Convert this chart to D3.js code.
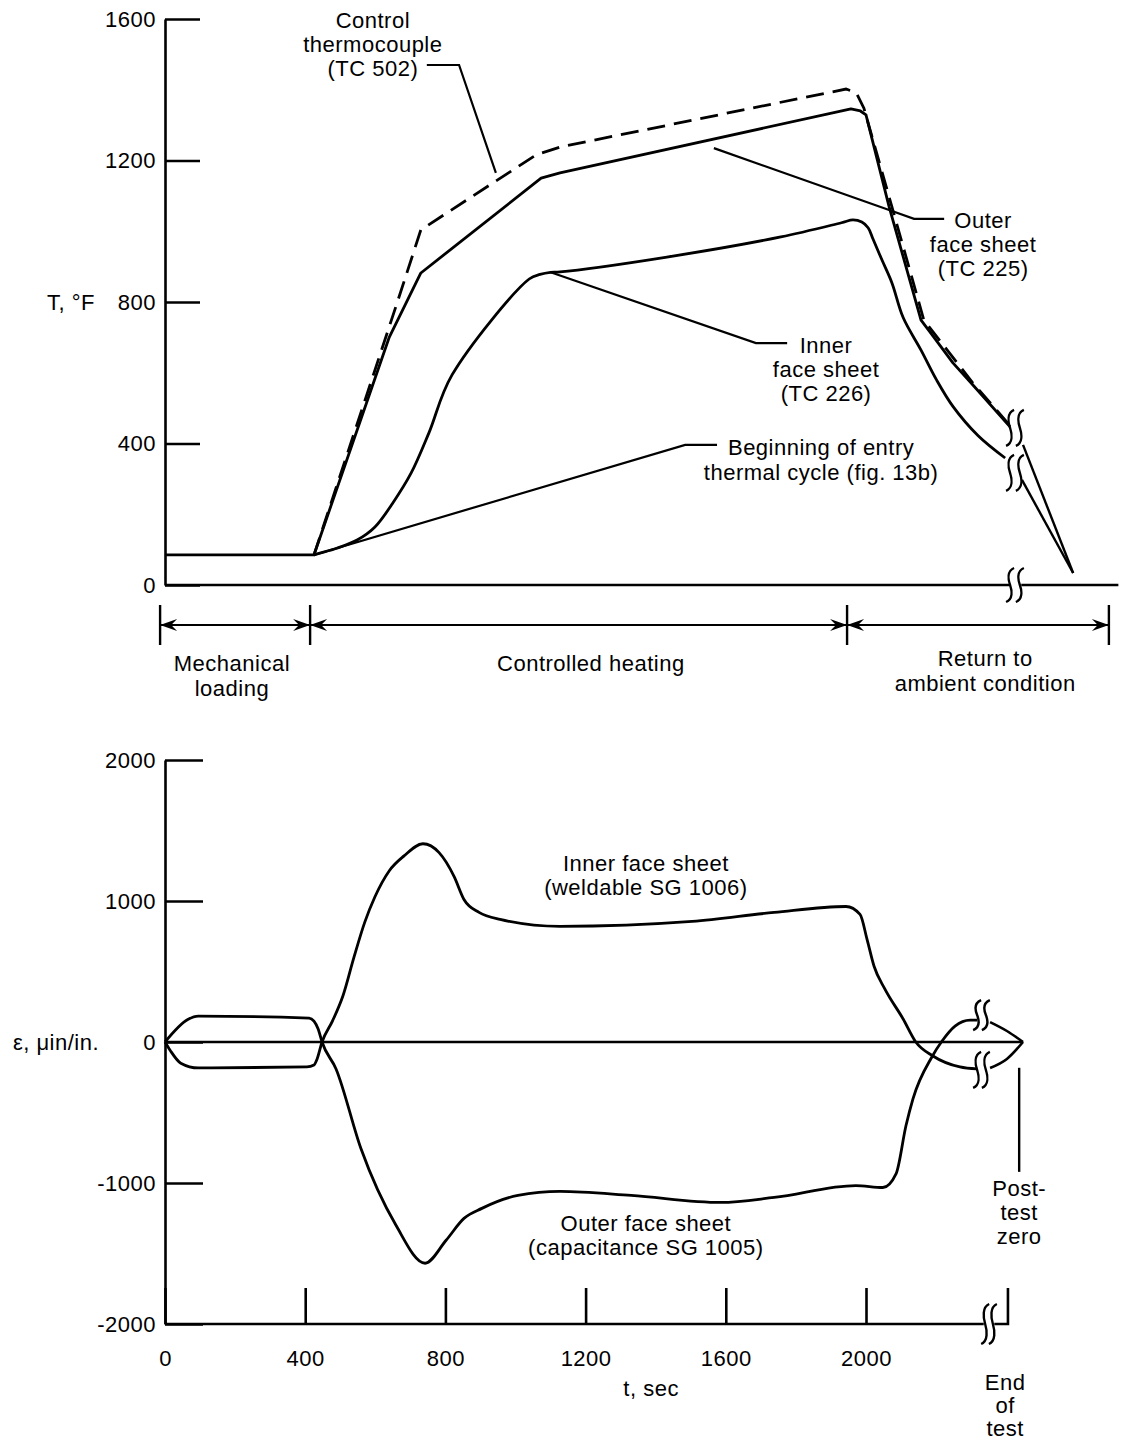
<!DOCTYPE html>
<html>
<head>
<meta charset="utf-8">
<script src="https://cdn.jsdelivr.net/npm/d3@7"></script>
<style>
body { margin: 0; background: #fff; }
svg text { font-family: "Liberation Sans", Arial, sans-serif; font-size: 22px; letter-spacing: 0.5px; fill: #000; }
</style>
</head>
<body>
<svg id="chart" width="1121" height="1442"></svg>
<script>
// tick values
var timeTicks = [0, 400, 800, 1200, 1600, 2000];
var tempTicks = [0, 400, 800, 1200, 1600];
var strainTicks = [-2000, -1000, 0, 1000, 2000];

// top panel: [t sec, T degF]; times past 2000 are on the broken (compressed) part of the axis
var controlTC502 = [[425,85],[665,806],[730,1004],[1059,1216],[1127,1238],[1943,1402],[1972,1392],[1994,1348],[2074,1069],[2165,749],[2194,712],[2305,571],[2414,447]];
var outerTC225 = [[0,85],[425,85],[640,701],[730,882],[1073,1150],[1127,1165],[1957,1346],[1984,1340],[2000,1329],[2066,1069],[2157,749],[2185,712],[2248,628],[2300,571],[2411,447]];
var outerTC225End = [[2448,396],[2591,34]];
var innerTC226 = [[425,85],[442,90],[490,104],[548,127],[599,164],[650,232],[702,316],[753,430],[819,594],[1039,865],[1070,878],[1100,884],[1127,885],[1432,927],[1757,984],[1930,1024],[1963,1032],[1988,1026],[2006,1010],[2020,978],[2045,920],[2074,854],[2106,756],[2157,664],[2200,582],[2248,505],[2320,422],[2397,359]];
var innerTC226End = [[2445,297],[2591,34]];

// bottom panel: [t sec, strain microin/in]
var innerSG1006 = [[0,0],[15,-60],[45,-150],[95,-184],[405,-177],[425,-163],[434,-120],[448,0],[478,150],[508,330],[539,600],[570,850],[599,1030],[640,1215],[682,1320],[736,1406],[782,1343],[825,1173],[853,1011],[896,919],[956,869],[1127,820],[1504,855],[1738,919],[1943,961],[1983,905],[2003,728],[2023,537],[2054,375],[2106,163],[2142,0],[2191,-99],[2268,-177],[2317,-191]];
var innerSG1006End = [[2354,-184],[2402,-120],[2448,0]];
var outerSG1005 = [[0,0],[65,160],[95,184],[411,170],[425,148],[437,92],[448,0],[488,-191],[559,-756],[659,-1300],[742,-1569],[802,-1406],[853,-1251],[904,-1180],[1007,-1088],[1127,-1060],[1330,-1088],[1586,-1138],[1738,-1102],[1971,-1018],[2048,-1032],[2086,-933],[2114,-594],[2134,-403],[2188,-106],[2217,7],[2254,113],[2297,155],[2317,155]];
var outerSG1005End = [[2354,141],[2402,78],[2448,0]];

// phases along the top time line
var phaseBounds = [-14, 414, 1946, 2693];
var phaseNames = [["Mechanical", "loading"], ["Controlled heating"], ["Return to", "ambient condition"]];
var phaseLabelT = [191, 1215, 2340];

// leader lines
var leaderControl = [[747,1470],[839,1470],[944,1165]];
var leaderOuter = [[1566,1235],[2066,1060],[2137,1035],[2223,1035]];
var leaderInner = [[1098,885],[1686,684],[1775,684]];
var leaderEntry = [[425,85],[1484,396],[1575,396]];

var svg = d3.select("#chart");
var x = d3.scaleLinear().domain([0, 2000]).range([165, 866]);
var yT = d3.scaleLinear().domain([0, 1600]).range([585, 19]);
var yS = d3.scaleLinear().domain([-2000, 2000]).range([1324, 760]);

var lineT = d3.line().x(function(d) { return x(d[0]); }).y(function(d) { return yT(d[1]); });
var roundT = d3.line().curve(d3.curveCatmullRom.alpha(0.5)).x(function(d) { return x(d[0]); }).y(function(d) { return yT(d[1]); });
var smoothS = d3.line().curve(d3.curveMonotoneX).x(function(d) { return x(d[0]); }).y(function(d) { return yS(d[1]); });

function stroke(sel, w) {
    return sel.attr("fill", "none").attr("stroke", "#000").attr("stroke-width", w);
}

function label(lines, px, py, dy) {
    var t = svg.append("text").attr("text-anchor", "middle");
    lines.forEach(function(s, i) {
        t.append("tspan").attr("x", px).attr("y", py + i * dy).text(s);
    });
}

// integral-sign style break mark
function breakMark(cx, cy, h) {
    var p = "M" + (cx + 4) + "," + (cy - h / 2) +
        " C" + (cx - 3) + "," + (cy - h / 2 + 3) + " " + (cx - 2) + "," + (cy - h / 6) + " " + cx + "," + cy +
        " C" + (cx + 2) + "," + (cy + h / 6) + " " + (cx + 3) + "," + (cy + h / 2 - 3) + " " + (cx - 4) + "," + (cy + h / 2);
    stroke(svg.append("path").attr("d", p), 2.4);
}

function arrowHead(xt, yy, dir) {
    var L = 17, w = 6;
    var p = "M" + xt + "," + yy + " L" + (xt - dir * L) + "," + (yy - w) +
        " L" + (xt - dir * L * 0.65) + "," + yy + " L" + (xt - dir * L) + "," + (yy + w) + " Z";
    svg.append("path").attr("d", p).attr("fill", "#000");
}

function styleAxis(g) {
    g.attr("font-size", null).attr("font-family", null);
    g.selectAll("path.domain").attr("stroke-width", 2.6);
    g.selectAll(".tick line").attr("stroke-width", 2.6);
}

var plain = function(d) { return String(d); };

// ---------- top panel ----------
svg.append("g")
    .attr("transform", "translate(" + x(0) + ",0)")
    .call(d3.axisLeft(yT).tickValues(tempTicks).tickFormat(plain).tickSizeInner(-35).tickSizeOuter(0).tickPadding(9))
    .call(styleAxis);

// baseline with break
stroke(svg.append("line").attr("x1", x(0)).attr("x2", x(2408)).attr("y1", yT(0)).attr("y2", yT(0)), 2.6);
stroke(svg.append("line").attr("x1", x(2443)).attr("x2", x(2720)).attr("y1", yT(0)).attr("y2", yT(0)), 2.6);
[2411, 2439].forEach(function(t) {
    breakMark(x(t), yT(0), 34);
    breakMark(x(t), yT(444), 36);
    breakMark(x(t), yT(317), 36);
});

stroke(svg.append("path").attr("d", lineT(outerTC225)), 2.8).attr("stroke-linejoin", "round");
stroke(svg.append("path").attr("d", lineT(outerTC225End)), 2.4);
stroke(svg.append("path").attr("d", roundT(innerTC226)), 2.8).attr("stroke-linejoin", "round");
stroke(svg.append("path").attr("d", lineT(innerTC226End)), 2.4);
stroke(svg.append("path").attr("d", lineT(controlTC502)), 2.8).attr("stroke-dasharray", "18,9");

[leaderControl, leaderOuter, leaderInner, leaderEntry].forEach(function(l) {
    stroke(svg.append("path").attr("d", lineT(l)), 2.2);
});

label(["Control", "thermocouple", "(TC 502)"], x(593), yT(1575), 24);
label(["Outer", "face sheet", "(TC 225)"], x(2334), yT(1009), 24);
label(["Inner", "face sheet", "(TC 226)"], x(1886), yT(656), 24);
label(["Beginning of entry", "thermal cycle (fig. 13b)"], x(1872), yT(367), 25);

svg.append("text").attr("x", 71).attr("y", yT(800) + 8).attr("text-anchor", "middle").text("T, \u00b0F");

// phase arrows
var yArrow = yT(0) + 40;
phaseBounds.forEach(function(t) {
    stroke(svg.append("line").attr("x1", x(t)).attr("x2", x(t)).attr("y1", yArrow - 20).attr("y2", yArrow + 20), 2.4);
});
for (var i = 0; i < phaseNames.length; i++) {
    var a = x(phaseBounds[i]), b = x(phaseBounds[i + 1]);
    stroke(svg.append("line").attr("x1", a).attr("x2", b).attr("y1", yArrow).attr("y2", yArrow), 2.2);
    arrowHead(a, yArrow, -1);
    arrowHead(b, yArrow, 1);
    label(phaseNames[i], x(phaseLabelT[i]), yT(0) + (i == 2 ? 81 : 86), 25);
}

// ---------- bottom panel ----------
svg.append("g")
    .attr("transform", "translate(" + x(0) + ",0)")
    .call(d3.axisLeft(yS).tickValues(strainTicks).tickFormat(plain)
        .tickSizeInner(-38).tickSizeOuter(0).tickPadding(9))
    .call(styleAxis);

var gx = svg.append("g")
    .attr("transform", "translate(0," + yS(-2000) + ")")
    .call(d3.axisBottom(x).tickValues(timeTicks).tickFormat(plain).tickSizeInner(-36).tickSizeOuter(0).tickPadding(26))
    .call(styleAxis);
gx.select("path.domain").remove();

stroke(svg.append("line").attr("x1", x(0)).attr("x2", x(2336)).attr("y1", yS(-2000)).attr("y2", yS(-2000)), 2.6);
stroke(svg.append("path").attr("d", "M" + x(2366) + "," + yS(-2000) + " H" + x(2405) + " V" + (yS(-2000) - 36)), 2.6);
[2340, 2362].forEach(function(t) { breakMark(x(t), yS(-2000), 40); });
[2317, 2342].forEach(function(t) {
    breakMark(x(t), yS(191), 30);
    breakMark(x(t), yS(-198), 36);
});

stroke(svg.append("line").attr("x1", x(0)).attr("x2", x(2448)).attr("y1", yS(0)).attr("y2", yS(0)), 2.6);

stroke(svg.append("path").attr("d", smoothS(innerSG1006)), 2.8);
stroke(svg.append("path").attr("d", smoothS(innerSG1006End)), 2.6);
stroke(svg.append("path").attr("d", smoothS(outerSG1005)), 2.8);
stroke(svg.append("path").attr("d", smoothS(outerSG1005End)), 2.6);

// post-test zero marker
stroke(svg.append("line").attr("x1", x(2437)).attr("x2", x(2437)).attr("y1", yS(-183)).attr("y2", yS(-921)), 2.4);

label(["Inner face sheet", "(weldable SG 1006)"], x(1372), yS(1213), 24);
label(["Outer face sheet", "(capacitance SG 1005)"], x(1372), yS(-1340), 24);
label(["Post-", "test", "zero"], x(2437), yS(-1092), 24);
label(["End", "of", "test"], x(2397), 1390, 23);
label(["t, sec"], x(1387), 1396, 24);

svg.append("text").attr("x", 56).attr("y", yS(0) + 8).attr("text-anchor", "middle").text("\u03b5, \u03bcin/in.");
</script>
</body>
</html>
